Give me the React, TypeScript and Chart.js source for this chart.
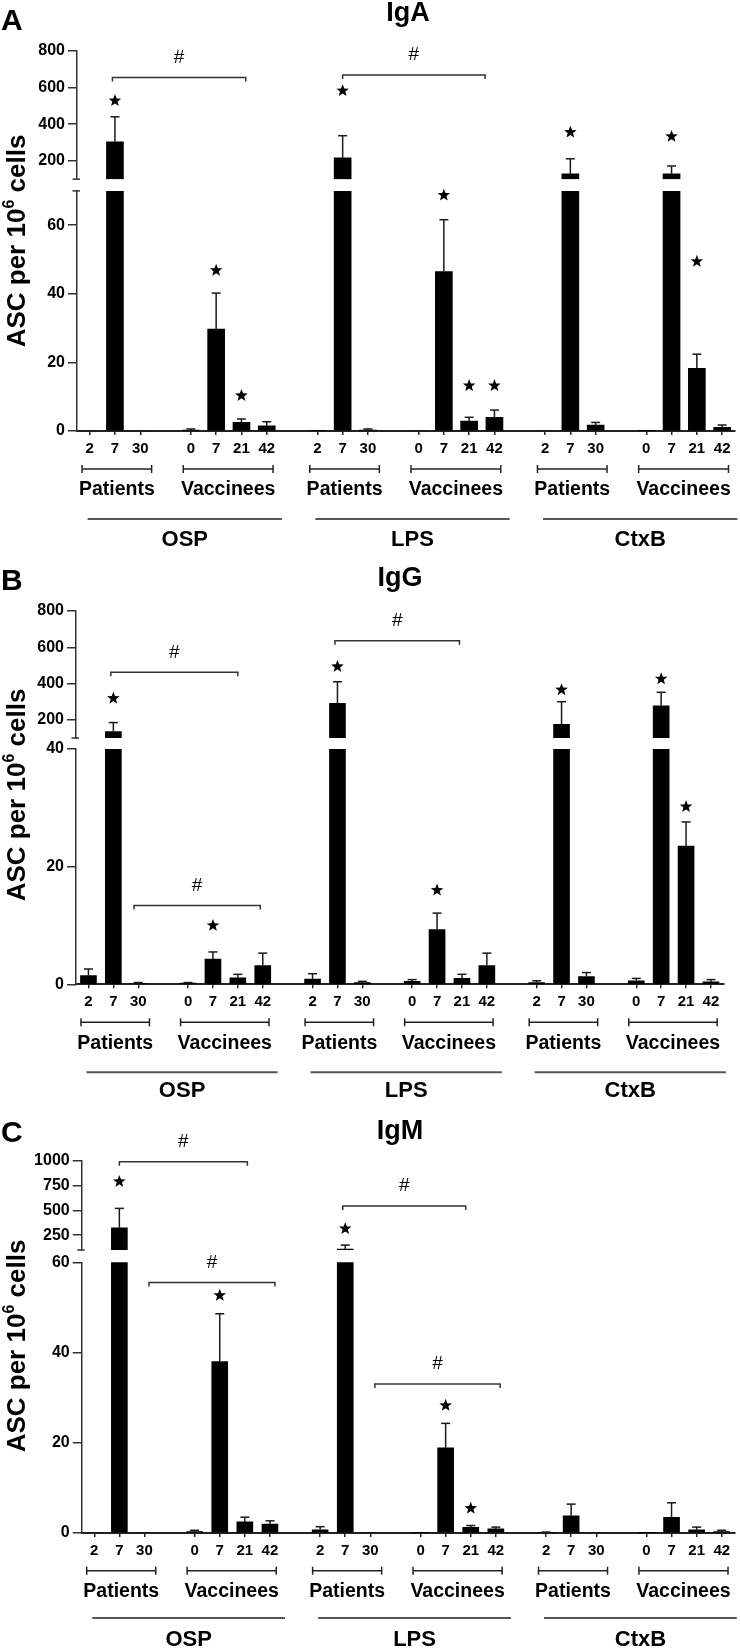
import React, { useEffect, useRef } from 'react';
import { Chart, registerables } from 'chart.js';

Chart.register(...registerables);

const FONT = "'Liberation Sans', Arial, Helvetica, sans-serif";

// ---- categories ----
const patientDays = ['2', '7', '30'];
const vaccineeDays = ['0', '7', '21', '42'];
const cohortNames = ['Patients', 'Vaccinees'];
const antigenNames = ['OSP', 'LPS', 'CtxB'];

// values per antigen, order: P2, P7, P30, V0, V7, V21, V42 (ASC per 10^6 cells)
// ---- IgA ----
const igaOSP = [0, 304, 0, 0.3, 29.7, 2.5, 1.5];
const igaOSPErr = [0, 136, 0, 0.3, 10.5, 1.0, 1.2];
const igaLPS = [0.2, 217, 0.3, 0, 46.5, 2.9, 4.0];
const igaLPSErr = [0, 120, 0.3, 0, 15.1, 1.1, 2.1];
const igaCtxB = [0, 129, 1.75, 0.2, 129, 18.3, 1.1];
const igaCtxBErr = [0, 82, 0.75, 0, 43, 4.1, 0.65];
const igaOSPStar = [null, 531, null, null, 47, 10.5, null];
const igaLPSStar = [null, 585, null, null, 68.9, 13.4, 13.4];
const igaCtxBStar = [null, 359, null, null, 336, 49.6, null];
const igaBrackets = [[0.9, 6.17, 654], [10, 15.63, 667]];
const igaUpperTicks = [200, 400, 600, 800];
const igaLowerTicks = [0, 20, 40, 60];

// ---- IgG ----
const iggOSP = [1.5, 135, 0.1, 0.2, 4.3, 1.1, 3.2];
const iggOSPErr = [1.1, 50, 0.2, 0.1, 1.2, 0.6, 2.1];
const iggLPS = [0.9, 291, 0.3, 0.5, 9.3, 1.0, 3.2];
const iggLPSErr = [0.9, 119, 0.2, 0.3, 2.8, 0.7, 2.1];
const iggCtxB = [0.3, 176, 1.3, 0.6, 277, 23.5, 0.4];
const iggCtxBErr = [0.3, 124, 0.7, 0.4, 75, 4.1, 0.4];
const iggOSPStar = [null, 322, null, null, 10.1, null, null];
const iggLPSStar = [null, 497, null, null, 16.1, null, null];
const iggCtxBStar = [null, 369, null, null, 429, 30.3, null];
const iggBrackets = [[0.9, 6, 462], [1.83, 6.9, 13.4], [9.9, 14.9, 636]];
const iggUpperTicks = [200, 400, 600, 800];
const iggLowerTicks = [0, 20, 40];

// ---- IgM ----
const igmOSP = [0, 325, 0, 0.3, 38, 2.5, 2.0];
const igmOSPErr = [0, 196, 0, 0.3, 10.6, 1.0, 0.7];
const igmLPS = [0.7, 109, 0, 0.1, 18.9, 1.26, 0.9];
const igmLPSErr = [0.7, 41, 0, 0, 5.4, 0.4, 0.4];
const igmCtxB = [0.1, 3.8, 0, 0.1, 3.5, 0.7, 0.3];
const igmCtxBErr = [0.1, 2.6, 0, 0, 3.2, 0.6, 0.3];
const igmOSPStar = [null, 798, null, null, 52.8, null, null];
const igmLPSStar = [null, 322, null, null, 28.4, 5.6, null];
const igmCtxBStar = [null, null, null, null, null, null, null];
const igmBrackets = [[1, 6.1, 993], [2.18, 7.2, 55.5], [9.9, 14.8, 545], [11.18, 16.17, 33]];
const igmUpperTicks = [250, 500, 750, 1000];
const igmLowerTicks = [0, 20, 40, 60];

// ---- slot helpers (26 category slots: 3 antigen blocks with gaps) ----
const slotLabels: string[] = [];
antigenNames.forEach((_, a) => {
  if (a > 0) slotLabels.push('');
  slotLabels.push(...patientDays, '', ...vaccineeDays);
});
const slotOf = (a: number, d: number) => a * 9 + (d < 3 ? d : d + 1);
function toSlots(arrs: (number | null)[][]) {
  const out: (number | null)[] = slotLabels.map(() => null);
  arrs.forEach((arr, a) => arr.forEach((v, d) => { out[slotOf(a, d)] = v; }));
  return out;
}

type Panel = {
  letter: string; title: string; height: number; top: number; bottom: number; left: number; right: number;
  titleX: number; titleY: number; letterY: number; yTitleY: number;
  hi: number[]; hiTicks: number[]; lo: number[]; loTicks: number[]; weights: number[]; bar: number;
  values: number[][]; errors: number[][]; stars: (number | null)[][]; brackets: number[][];
  lowTopMark: boolean; rows: number[];
};

const panels: Panel[] = [
  {
    letter: 'A', title: 'IgA', height: 555, top: 50.7, bottom: 431, left: 77, right: 734.8,
    titleX: 408, titleY: 14, letterY: 30, yTitleY: 241,
    hi: [100, 800], hiTicks: igaUpperTicks, lo: [0, 70], loTicks: igaLowerTicks, weights: [128.6, 11.7, 240.3], bar: 17,
    values: [igaOSP, igaLPS, igaCtxB], errors: [igaOSPErr, igaLPSErr, igaCtxBErr],
    stars: [igaOSPStar, igaLPSStar, igaCtxBStar], brackets: igaBrackets, lowTopMark: true,
    rows: [38, 59, 88, 109],
  },
  {
    letter: 'B', title: 'IgG', height: 555, top: 56, bottom: 429.3, left: 76, right: 723.4,
    titleX: 400, titleY: 24, letterY: 35, yTitleY: 240,
    hi: [100, 800], hiTicks: iggUpperTicks, lo: [0, 40], loTicks: iggLowerTicks, weights: [127, 11, 235.3], bar: 16,
    values: [iggOSP, iggLPS, iggCtxB], errors: [iggOSPErr, iggLPSErr, iggCtxBErr],
    stars: [iggOSPStar, iggLPSStar, iggCtxBStar], brackets: iggBrackets, lowTopMark: false,
    rows: [38, 59, 88, 107],
  },
  {
    letter: 'C', title: 'IgM', height: 540, top: 51, bottom: 423, left: 81.7, right: 734.3,
    titleX: 400, titleY: 22, letterY: 32, yTitleY: 236,
    hi: [100, 1000], hiTicks: igmUpperTicks, lo: [0, 60], loTicks: igmLowerTicks, weights: [89, 12.3, 270.7], bar: 16,
    values: [igmOSP, igmLPS, igmCtxB], errors: [igmOSPErr, igmLPSErr, igmCtxBErr],
    stars: [igmOSPStar, igmLPSStar, igmCtxBStar], brackets: igmBrackets, lowTopMark: false,
    rows: [37.7, 58.7, 85, 107],
  },
];

function drawStar(ctx: CanvasRenderingContext2D, cx: number, cy: number, R: number) {
  const r = R * 0.42;
  ctx.beginPath();
  for (let i = 0; i < 10; i++) {
    const ang = -Math.PI / 2 + (i * Math.PI) / 5;
    const rad = i % 2 ? r : R;
    const X = cx + rad * Math.cos(ang);
    const Y = cy + rad * Math.sin(ang);
    if (i === 0) ctx.moveTo(X, Y); else ctx.lineTo(X, Y);
  }
  ctx.closePath();
  ctx.fill();
}

function overlayPlugin(p: Panel) {
  const loMax = p.lo[1];
  const line = (ctx: CanvasRenderingContext2D, x1: number, y1: number, x2: number, y2: number) => {
    ctx.beginPath(); ctx.moveTo(x1, y1); ctx.lineTo(x2, y2); ctx.stroke();
  };
  return {
    id: 'overlay' + p.letter,
    afterDatasetsDraw(chart: any) {
      const ctx = chart.ctx as CanvasRenderingContext2D;
      const xs = chart.scales.x, hi = chart.scales.yHigh, lo = chart.scales.yLow;
      ctx.save();
      ctx.strokeStyle = '#1a1a1a';
      ctx.lineWidth = 1.5;
      p.values.forEach((arr, a) => arr.forEach((v, d) => {
        const e = p.errors[a][d];
        if (!e) return;
        const px = xs.getPixelForValue(slotOf(a, d));
        let y0: number, y1: number;
        if (v > loMax) { y0 = hi.getPixelForValue(v); y1 = hi.getPixelForValue(v + e); }
        else { y0 = lo.getPixelForValue(v); y1 = lo.getPixelForValue(Math.min(v + e, loMax)); }
        line(ctx, px, y0, px, y1);
        line(ctx, px - 4.5, y1, px + 4.5, y1);
      }));
      ctx.restore();
    },
    afterDraw(chart: any) {
      const ctx = chart.ctx as CanvasRenderingContext2D;
      const xs = chart.scales.x, hi = chart.scales.yHigh, lo = chart.scales.yLow;
      const { left, bottom } = chart.chartArea;
      const yAt = (v: number) => (v > loMax ? hi.getPixelForValue(v) : lo.getPixelForValue(v));
      ctx.save();
      // axis break marks
      ctx.strokeStyle = '#333';
      ctx.lineWidth = 1.5;
      line(ctx, left - 4.5, hi.bottom, left + 3, hi.bottom);
      if (p.lowTopMark) line(ctx, left - 4.5, lo.top, left + 3, lo.top);

      ctx.fillStyle = '#000';
      // panel letter
      ctx.font = `bold 30px ${FONT}`;
      ctx.textAlign = 'left';
      ctx.textBaseline = 'alphabetic';
      ctx.fillText(p.letter, 1, p.letterY);
      // title
      ctx.font = `bold 27px ${FONT}`;
      ctx.textAlign = 'center';
      ctx.textBaseline = 'middle';
      ctx.fillText(p.title, p.titleX, p.titleY);

      // y-axis title with superscript
      ctx.save();
      ctx.translate(16, p.yTitleY);
      ctx.rotate(-Math.PI / 2);
      const t1 = 'ASC per 10', t2 = '6', t3 = ' cells';
      ctx.font = `bold 26px ${FONT}`;
      const w1 = ctx.measureText(t1).width, w3 = ctx.measureText(t3).width;
      ctx.font = `bold 16px ${FONT}`;
      const w2 = ctx.measureText(t2).width;
      let sx = -(w1 + w2 + w3) / 2;
      ctx.textAlign = 'left';
      ctx.textBaseline = 'alphabetic';
      ctx.font = `bold 26px ${FONT}`;
      ctx.fillText(t1, sx, 9); sx += w1;
      ctx.font = `bold 16px ${FONT}`;
      ctx.fillText(t2, sx, -2); sx += w2;
      ctx.font = `bold 26px ${FONT}`;
      ctx.fillText(t3, sx, 9);
      ctx.restore();

      // significance stars
      p.stars.forEach((arr, a) => arr.forEach((s, d) => {
        if (s == null) return;
        drawStar(ctx, xs.getPixelForValue(slotOf(a, d)), yAt(s) + 0.6, 6.6);
      }));

      // # brackets
      ctx.strokeStyle = '#333';
      ctx.lineWidth = 1.5;
      p.brackets.forEach(([s1, s2, lvl]) => {
        const x1 = xs.getPixelForValue(s1), x2 = xs.getPixelForValue(s2), y = yAt(lvl);
        ctx.beginPath();
        ctx.moveTo(x1, y + 4); ctx.lineTo(x1, y); ctx.lineTo(x2, y); ctx.lineTo(x2, y + 4);
        ctx.stroke();
        ctx.font = `19px ${FONT}`;
        ctx.textAlign = 'center';
        ctx.textBaseline = 'middle';
        ctx.fillText('#', (x1 + x2) / 2, y - 20);
      });

      // cohort brackets and antigen lines
      const [rBr, rCo, rLine, rAg] = p.rows;
      antigenNames.forEach((ag, a) => {
        const spans = [
          [xs.getPixelForValue(slotOf(a, 0) - 0.3), xs.getPixelForValue(slotOf(a, 2) + 0.45)],
          [xs.getPixelForValue(slotOf(a, 3) - 0.3), xs.getPixelForValue(slotOf(a, 6) + 0.25)],
        ];
        spans.forEach(([x1, x2], c) => {
          ctx.strokeStyle = '#222';
          ctx.lineWidth = 1.5;
          const y = bottom + rBr;
          line(ctx, x1, y, x2, y);
          line(ctx, x1, y - 4, x1, y + 4);
          line(ctx, x2, y - 4, x2, y + 4);
          ctx.font = `bold 19.5px ${FONT}`;
          ctx.textAlign = 'center';
          ctx.textBaseline = 'middle';
          ctx.fillText(cohortNames[c], (x1 + x2) / 2, bottom + rCo);
        });
        const lx1 = xs.getPixelForValue(slotOf(a, 0) - 0.08);
        const lx2 = xs.getPixelForValue(slotOf(a, 6) + 0.6);
        ctx.strokeStyle = '#555';
        ctx.lineWidth = 2;
        line(ctx, lx1, bottom + rLine, lx2, bottom + rLine);
        ctx.font = `bold 22px ${FONT}`;
        ctx.textAlign = 'center';
        ctx.textBaseline = 'middle';
        ctx.fillText(ag, (lx1 + lx2) / 2, bottom + rAg);
      });
      ctx.restore();
    },
  };
}

function PanelChart({ p }: { p: Panel }) {
  const ref = useRef<HTMLCanvasElement | null>(null);
  useEffect(() => {
    if (!ref.current) return;
    const loMax = p.lo[1];
    const vals = toSlots(p.values);
    const tickFont = { family: FONT, size: 16, weight: 'bold' as const };
    const yCommon = (ticks: number[], range: number[], weight: number, sw: number) => ({
      type: 'linear' as const,
      axis: 'y' as const,
      position: 'left' as const,
      stack: 'panel',
      stackWeight: sw,
      weight,
      min: range[0],
      max: range[1],
      afterBuildTicks: (s: any) => { s.ticks = ticks.map((v) => ({ value: v })); },
      afterFit: (s: any) => { s.width = p.left; },
      grid: { drawOnChartArea: false, drawTicks: true, tickLength: 9, color: '#333', lineWidth: 1.5 },
      border: { display: true, color: '#333', width: 1.5 },
      ticks: { font: tickFont, color: '#000', padding: 3, callback: (v: any) => String(v), autoSkip: false },
    });
    const chart = new Chart(ref.current, {
      type: 'bar',
      data: {
        labels: slotLabels,
        datasets: [
          {
            data: vals.map((v) => (v == null ? null : Math.min(v, loMax))) as any,
            yAxisID: 'yLow', backgroundColor: '#000', borderWidth: 0, grouped: false, barThickness: p.bar,
          },
          {
            data: vals.map((v) => (v != null && v > loMax ? [p.hi[0], v] : null)) as any,
            yAxisID: 'yHigh', backgroundColor: '#000', borderWidth: 0, grouped: false, barThickness: p.bar,
          },
        ],
      },
      options: {
        responsive: false,
        animation: false,
        devicePixelRatio: 1,
        layout: { padding: { top: p.top, left: 0, right: 740 - p.right, bottom: 0 } },
        plugins: { legend: { display: false }, tooltip: { enabled: false }, title: { display: false } },
        scales: {
          x: {
            type: 'category',
            offset: true,
            afterFit: (s: any) => { s.height = p.height - p.bottom; },
            grid: {
              drawOnChartArea: false, drawTicks: true, tickLength: 4, offset: false, lineWidth: 1.5,
              color: (c: any) => (slotLabels[c.index] ? '#222' : 'rgba(0,0,0,0)'),
            },
            border: { display: true, color: '#222', width: 2 },
            ticks: {
              font: { family: FONT, size: 15, weight: 'bold' }, color: '#000', padding: 5,
              autoSkip: false, maxRotation: 0, minRotation: 0,
            },
          },
          yHigh: yCommon(p.hiTicks, p.hi, 2, p.weights[0]),
          yGap: {
            type: 'linear', axis: 'y', position: 'left', stack: 'panel', stackWeight: p.weights[1], weight: 1,
            min: 0, max: 1,
            afterFit: (s: any) => { s.width = p.left; },
            grid: { display: false }, border: { display: false }, ticks: { display: false },
          },
          yLow: yCommon(p.loTicks, p.lo, 0, p.weights[2]),
        } as any,
      },
      plugins: [overlayPlugin(p)],
    });
    return () => chart.destroy();
  }, [p]);
  return (
    <div style={{ width: 740, height: p.height }}>
      <canvas ref={ref} width={740} height={p.height} style={{ display: 'block', width: 740, height: p.height }} />
    </div>
  );
}

export default function App() {
  return (
    <div style={{ position: 'absolute', left: 0, top: 0, width: 740, height: 1650, background: '#fff' }}>
      {panels.map((p) => (
        <PanelChart key={p.letter} p={p} />
      ))}
    </div>
  );
}
